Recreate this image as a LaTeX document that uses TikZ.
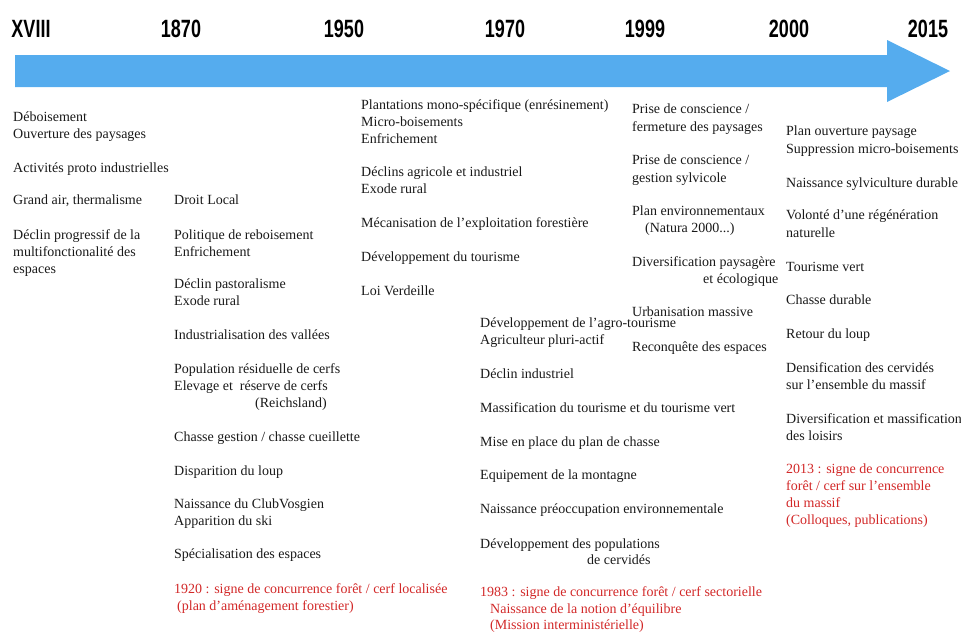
\documentclass[tikz,border=0pt]{standalone}
\usepackage{fontspec}
\setmainfont{Liberation Serif}
\newfontfamily\yearfont[FakeStretch=0.72]{Liberation Sans}
\definecolor{arrowblue}{RGB}{85,172,238}
\definecolor{redtxt}{RGB}{210,40,40}
\begin{document}
\begin{tikzpicture}[x=1pt,y=-1pt,
  t/.style={anchor=mid west,inner sep=0pt,yshift=-3pt,font=\fontsize{14}{17}\selectfont,text=black!90},
  rt/.style={t,text=redtxt},
  yr/.style={anchor=center,inner sep=0pt,font=\yearfont\bfseries\fontsize{25}{25}\selectfont}]
\useasboundingbox (0,0) rectangle (961,633);
% arrow
\fill[arrowblue] (15,55) -- (887,55) -- (887,40) -- (950,71) -- (887,102) -- (887,87) -- (15,87) -- cycle;
% years
\node[yr] (y1) at (31,29) {XVIII};
\node[yr] (y2) at (181,29) {1870};
\node[yr] (y3) at (344,29) {1950};
\node[yr] (y4) at (505,29) {1970};
\node[yr] (y5) at (645,29) {1999};
\node[yr] (y6) at (789,29) {2000};
\node[yr] (y7) at (928,29) {2015};
% column 1
\node[t] (a1) at (13,116) {Déboisement};
\node[t] (a2) at (13,133) {Ouverture des paysages};
\node[t] (a3) at (13,167) {Activités proto industrielles};
\node[t] (a4) at (13,199) {Grand air, thermalisme};
\node[t] (a5) at (13,234) {Déclin progressif de la};
\node[t] (a6) at (13,251) {multifonctionalité des};
\node[t] (a7) at (13,268) {espaces};
% column 2
\node[t] (b1) at (174,199) {Droit Local};
\node[t] (b2) at (174,234) {Politique de reboisement};
\node[t] (b3) at (174,251) {Enfrichement};
\node[t] (b4) at (174,283) {Déclin pastoralisme};
\node[t] (b5) at (174,300) {Exode rural};
\node[t] (b6) at (174,334) {Industrialisation des vallées};
\node[t] (b7) at (174,368) {Population résiduelle de cerfs};
\node[t] (b8) at (174,385) {Elevage et\ \ réserve de cerfs};
\node[t] (b9) at (255,402) {(Reichsland)};
\node[t] (b10) at (174,436) {Chasse gestion / chasse cueillette};
\node[t] (b11) at (174,470) {Disparition du loup};
\node[t] (b12) at (174,503) {Naissance du ClubVosgien};
\node[t] (b13) at (174,520) {Apparition du ski};
\node[t] (b14) at (174,553) {Spécialisation des espaces};
\node[rt] (b15) at (174,588) {1920 : signe de concurrence forêt / cerf localisée};
\node[rt] (b16) at (177,605) {(plan d’aménagement forestier)};
% column 3
\node[t] (c1) at (361,104) {Plantations mono-spécifique (enrésinement)};
\node[t] (c2) at (361,121) {Micro-boisements};
\node[t] (c3) at (361,138) {Enfrichement};
\node[t] (c4) at (361,171) {Déclins agricole et industriel};
\node[t] (c5) at (361,188) {Exode rural};
\node[t] (c6) at (361,222) {Mécanisation de l’exploitation forestière};
\node[t] (c7) at (361,256) {Développement du tourisme};
\node[t] (c8) at (361,290) {Loi Verdeille};
% column 4
\node[t] (d1) at (480,322) {Développement de l’agro-tourisme};
\node[t] (d2) at (480,339) {Agriculteur pluri-actif};
\node[t] (d3) at (480,373) {Déclin industriel};
\node[t] (d4) at (480,407) {Massification du tourisme et du tourisme vert};
\node[t] (d5) at (480,441) {Mise en place du plan de chasse};
\node[t] (d6) at (480,474) {Equipement de la montagne};
\node[t] (d7) at (480,508) {Naissance préoccupation environnementale};
\node[t] (d8) at (480,543) {Développement des populations};
\node[t] (d9) at (587,559) {de cervidés};
\node[rt] (d10) at (480,591) {1983 : signe de concurrence forêt / cerf sectorielle};
\node[rt] (d11) at (490,608) {Naissance de la notion d’équilibre};
\node[rt] (d12) at (490,624) {(Mission interministérielle)};
% column 5
\node[t] (e1) at (632,108) {Prise de conscience /};
\node[t] (e2) at (632,126) {fermeture des paysages};
\node[t] (e3) at (632,159) {Prise de conscience /};
\node[t] (e4) at (632,177) {gestion sylvicole};
\node[t] (e5) at (632,210) {Plan environnementaux};
\node[t] (e6) at (645,227) {(Natura 2000...)};
\node[t] (e7) at (632,261) {Diversification paysagère};
\node[t] (e8) at (703,278) {et écologique};
\node[t] (e9) at (632,311) {Urbanisation massive};
\node[t] (e10) at (632,346) {Reconquête des espaces};
% column 6
\node[t] (f1) at (786,130) {Plan ouverture paysage};
\node[t] (f2) at (786,148) {Suppression micro-boisements};
\node[t] (f3) at (786,182) {Naissance sylviculture durable};
\node[t] (f4) at (786,214) {Volonté d’une régénération};
\node[t] (f5) at (786,232) {naturelle};
\node[t] (f6) at (786,266) {Tourisme vert};
\node[t] (f7) at (786,299) {Chasse durable};
\node[t] (f8) at (786,333) {Retour du loup};
\node[t] (f9) at (786,367) {Densification des cervidés};
\node[t] (f10) at (786,384) {sur l’ensemble du massif};
\node[t] (f11) at (786,418) {Diversification et massification};
\node[t] (f12) at (786,435) {des loisirs};
\node[rt] (f13) at (786,468) {2013 : signe de concurrence};
\node[rt] (f14) at (786,485) {forêt / cerf sur l’ensemble};
\node[rt] (f15) at (786,502) {du massif};
\node[rt] (f16) at (786,519) {(Colloques, publications)};
\end{tikzpicture}
\end{document}
